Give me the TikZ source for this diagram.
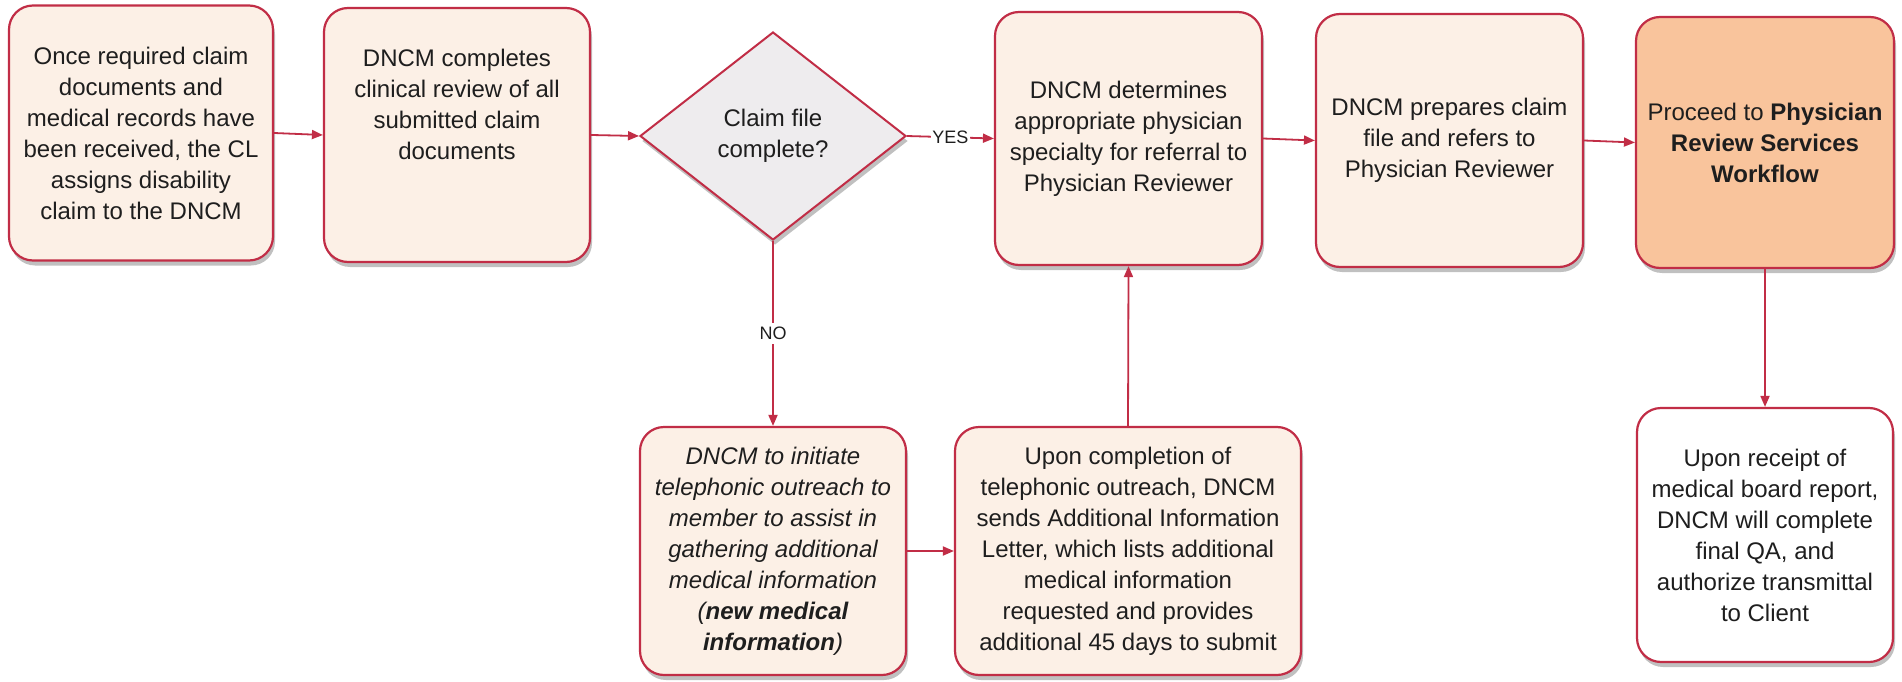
\documentclass[tikz,border=0pt]{standalone}
\usepackage{fontspec}
\setmainfont{Liberation Sans}
\usetikzlibrary{shapes.geometric,arrows.meta,shadows}
\definecolor{bordr}{RGB}{193,45,70}
\definecolor{cream}{RGB}{252,240,230}
\definecolor{peach}{RGB}{249,196,156}
\definecolor{dgray}{RGB}{238,236,238}
\definecolor{txt}{RGB}{30,30,30}
\begin{document}
\begin{tikzpicture}[x=1pt,y=-1pt,
  shad/.style={drop shadow={shadow xshift=2pt, shadow yshift=-5pt, opacity=0.35, fill=black!70}},
  box/.style={shad, draw=bordr, line width=2.2pt, rounded corners=24pt, fill=cream,
    align=center, text=txt, font=\fontsize{24}{31}\selectfont, inner sep=0pt},
  dec/.style={shad, shape=diamond, draw=bordr, line width=2pt, fill=dgray, aspect=1.28,
    minimum width=266pt, minimum height=208pt, inner sep=0pt,
    align=center, text=txt, font=\fontsize{24}{31}\selectfont},
  conn/.style={draw=bordr, line width=1.8pt, -{Triangle[length=11pt,width=9pt]}},
  lab/.style={fill=white, inner sep=1.5pt, text=txt, font=\fontsize{18}{20}\selectfont}
]
\useasboundingbox[fill=white] (0,0) rectangle (1902,682);

\node[box, minimum width=264pt, minimum height=255pt] (b1) at (141,133)
  {Once required claim\\documents and\\medical records have\\been received, the CL\\assigns disability\\claim to the DNCM};
\node[box, minimum width=266pt, minimum height=254pt] (b2) at (457,135)
  {DNCM completes\\clinical review of all\\submitted claim\\documents\\[31pt]};
\node[dec] (d) at (773,136) {Claim file\\complete?};
\node[box, minimum width=267pt, minimum height=253pt] (b3) at (1128.5,138.5)
  {DNCM determines\\appropriate physician\\specialty for referral to\\Physician Reviewer};
\node[box, minimum width=267pt, minimum height=253pt] (b4) at (1449.5,140.5)
  {DNCM prepares claim\\file and refers to\\Physician Reviewer};
\node[box, fill=peach, minimum width=258pt, minimum height=251pt] (b5) at (1765,142.5)
  {Proceed to \textbf{Physician}\\\textbf{Review Services}\\\textbf{Workflow}};
\node[box, fill=white, minimum width=256pt, minimum height=254pt] (b6) at (1765,535)
  {Upon receipt of\\medical board report,\\DNCM will complete\\final QA, and\\authorize transmittal\\to Client};
\node[box, minimum width=266pt, minimum height=248pt, font=\fontsize{24}{31}\selectfont\itshape] (b7) at (773,551)
  {DNCM to initiate\\telephonic outreach to\\member to assist in\\gathering additional\\medical information\\(\textbf{new medical}\\\textbf{information})};
\node[box, minimum width=346pt, minimum height=248pt] (b8) at (1128,551)
  {Upon completion of\\telephonic outreach, DNCM\\sends Additional Information\\Letter, which lists additional\\medical information\\requested and provides\\additional 45 days to submit};

\draw[conn] (b1.east) -- (b2.west);
\draw[conn] (b2.east) -- (d.west);
\draw[conn] (d.east) -- node[lab] {YES} (b3.west);
\draw[conn] (b3.east) -- (b4.west);
\draw[conn] (b4.east) -- (b5.west);
\draw[conn] (b5.south) -- (b6.north);
\draw[conn] (d.south) -- node[lab, inner ysep=4pt] {NO} (b7.north);
\draw[conn] (b7.east) -- (b8.west);
\draw[conn] (b8.north) -- (b3.south);
\end{tikzpicture}
\end{document}
